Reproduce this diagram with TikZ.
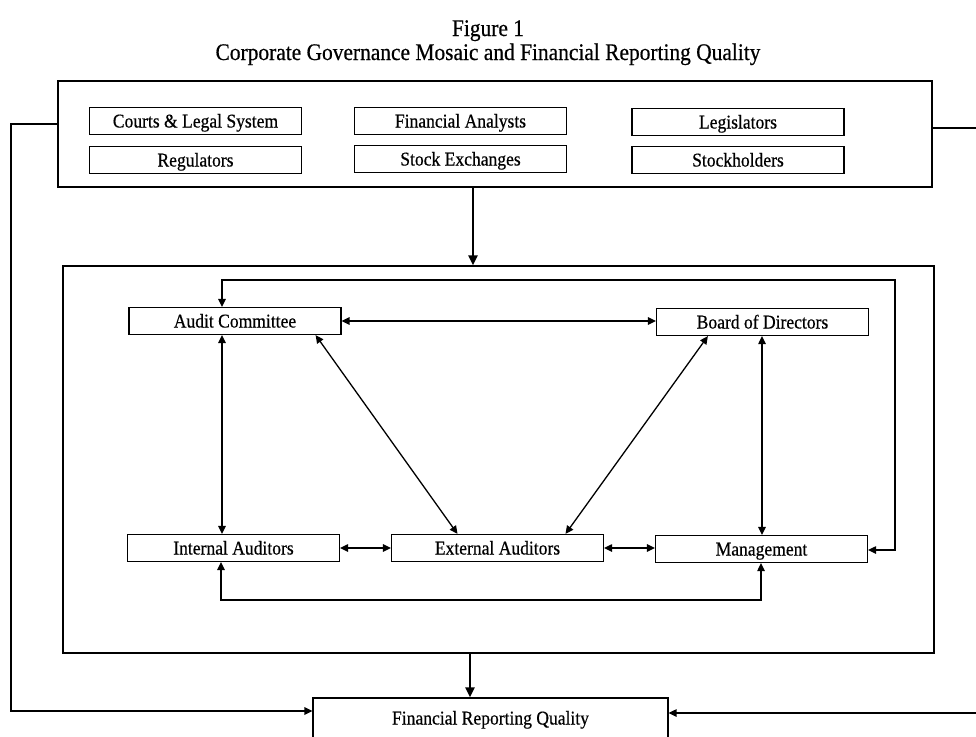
\documentclass[tikz,border=0pt]{standalone}
\usepackage{fontspec}
\setmainfont[FakeStretch=0.9,FakeBold=0.5]{Liberation Serif}
\usetikzlibrary{arrows.meta}
\begin{document}
\begin{tikzpicture}[x=1pt,y=-1pt,
  lbl/.style={draw, line width=1.2pt, minimum width=212pt, minimum height=27pt, inner sep=0pt, text height=15pt, text depth=2pt, font=\fontsize{19.5}{21}\selectfont},
  frame/.style={draw, line width=1.3pt, inner sep=0pt},
  titletext/.style={anchor=base, inner sep=0pt, font=\fontsize{23.8}{26}\selectfont},
  conn/.style={line width=1.3pt},
  tip/.style={-{Triangle[length=8pt,width=7.5pt]}},
  bigtip/.style={-{Triangle[length=10pt,width=9pt]}},
  both/.style={{Triangle[length=8pt,width=7.5pt]}-{Triangle[length=8pt,width=7.5pt]}},
  heavy/.style={line width=2.6pt},
]
\useasboundingbox (0,0) rectangle (976,736);
\clip (0,0) rectangle (976,736);
\fill[white] (0,0) rectangle (976,736);

% title
\node[titletext] (fig) at (488,36) {Figure 1};
\node[titletext] (ttl) at (488,60) {Corporate Governance Mosaic and Financial Reporting Quality};

% top frame and its boxes
\node[frame, minimum width=874pt, minimum height=106pt] (top) at (495,134) {};
\node[lbl] (courts) at (195.5,121) {Courts \& Legal System};
\node[lbl] (fa) at (460.5,121) {Financial Analysts};
\node[lbl] (leg) at (738,122) {Legislators};
\node[lbl] (reg) at (195.5,160) {Regulators};
\node[lbl] (se) at (460.5,159) {Stock Exchanges};
\node[lbl] (sh) at (738,160) {Stockholders};

% middle frame and its boxes
\node[frame, minimum width=871pt, minimum height=387pt] (mid) at (498.5,459.5) {};
\node[lbl] (ac) at (235,321) {Audit Committee};
\node[lbl] (bod) at (762.5,322) {Board of Directors};
\node[lbl] (ia) at (233.5,548) {Internal Auditors};
\node[lbl] (ea) at (497.5,548) {External Auditors};
\node[lbl] (mg) at (761.5,549) {Management};

% result box
\node[lbl, minimum width=355pt, minimum height=40pt] (frq) at (490.5,718) {Financial Reporting Quality};

% main flow arrows
\coordinate (ax) at (473,0);
\draw[heavy, bigtip] (top.south -| ax) -- (mid.north -| ax);
\coordinate (bx) at (470,0);
\draw[heavy, bigtip] (mid.south -| bx) -- (frq.north -| bx);

% outer side connectors
\coordinate (L1) at (11,124);
\coordinate (L2) at (11,711);
\draw[conn, line width=1.7pt, tip] (L1 -| top.west) -- (L1) -- (L2) -- (L2 -| frq.west);
\coordinate (R1) at (992,128);
\coordinate (R2) at (992,713);
\draw[conn, tip] (R1 -| top.east) -- (R1) -- (R2) -- (R2 -| frq.east);

% inner loops
\coordinate (T1) at (222,280);
\coordinate (T2) at (895,280);
\coordinate (T3) at (895,550);
\draw[conn, both] (ac.north -| T1) -- (T1) -- (T2) -- (T3) -- (T3 -| mg.east);
\coordinate (B1) at (221,600);
\coordinate (B2) at (761,600);
\draw[conn, both] (ia.south -| B1) -- (B1) -- (B2) -- (mg.south -| B2);

% verticals
\draw[conn, both] (ac.south -| T1) -- (ia.north -| T1);
\coordinate (V) at (762,0);
\draw[conn, both] (bod.south -| V) -- (mg.north -| V);

% horizontals
\draw[conn, both] (ac.east) -- (ac.east -| bod.west);
\draw[conn, both] (ia.east) -- (ea.west);
\draw[conn, both] (ea.east) -- (ea.east -| mg.west);

% diagonals
\draw[conn, both] ([xshift=-26pt]ac.south east) -- ([xshift=-40pt]ea.north);
\draw[conn, both] ([xshift=52pt]bod.south west) -- ([xshift=68pt]ea.north);
\end{tikzpicture}
\end{document}
